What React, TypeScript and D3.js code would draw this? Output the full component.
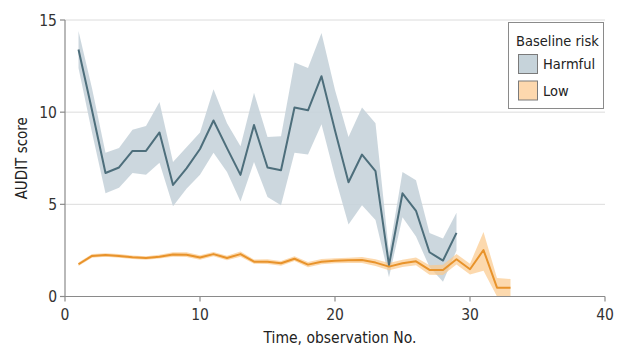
import React from 'react';
import * as d3 from 'd3';

// observation numbers
const harmfulObs = d3.range(1, 30);
const lowObs = d3.range(1, 34);

// Harmful baseline risk: mean AUDIT score and CI band
const harmfulMean = [13.4, 10.1, 6.7, 7.0, 7.9, 7.9, 8.9, 6.05, 6.95, 8.0, 9.55, 8.05, 6.6, 9.3, 7.0, 6.85, 10.25, 10.1, 11.95, 9.0, 6.2, 7.7, 6.8, 1.7, 5.6, 4.65, 2.4, 1.95, 3.45];
const harmfulHi = [14.4, 11.3, 7.8, 8.05, 9.05, 9.25, 10.55, 7.3, 8.1, 8.9, 11.25, 9.4, 8.15, 11.05, 8.65, 8.7, 12.7, 12.4, 14.3, 11.2, 8.65, 10.25, 9.4, 2.4, 6.75, 6.3, 3.45, 3.15, 4.55];
const harmfulLo = [12.4, 8.9, 5.6, 5.9, 6.7, 6.6, 7.25, 4.9, 5.85, 6.6, 7.8, 6.75, 5.15, 7.3, 5.4, 4.95, 7.8, 7.7, 9.35, 6.5, 3.9, 4.95, 4.15, 1.05, 4.3, 3.25, 1.6, 0.8, 2.5];

// Low baseline risk
const lowMean = [1.75, 2.2, 2.25, 2.2, 2.13, 2.09, 2.16, 2.28, 2.27, 2.12, 2.3, 2.09, 2.3, 1.89, 1.89, 1.8, 2.05, 1.73, 1.89, 1.94, 1.96, 1.98, 1.84, 1.62, 1.8, 1.91, 1.44, 1.44, 2.02, 1.48, 2.52, 0.48, 0.48];
const lowHi = [1.85, 2.3, 2.35, 2.3, 2.23, 2.19, 2.26, 2.4, 2.4, 2.24, 2.42, 2.21, 2.44, 2.01, 2.02, 1.93, 2.18, 1.87, 2.03, 2.08, 2.1, 2.14, 2.02, 1.82, 2.0, 2.12, 1.7, 1.72, 2.3, 1.78, 3.5, 1.0, 0.95];
const lowLo = [1.65, 2.1, 2.15, 2.1, 2.03, 1.99, 2.06, 2.16, 2.14, 2.0, 2.18, 1.97, 2.16, 1.77, 1.76, 1.67, 1.92, 1.59, 1.75, 1.8, 1.82, 1.82, 1.66, 1.42, 1.6, 1.7, 1.18, 1.16, 1.74, 1.2, 1.4, 0.0, 0.0];

const xTicks = [0, 10, 20, 30, 40];
const yTicks = [0, 5, 10, 15];
const legendItems = [
  { label: 'Harmful', fill: '#c6d3da' },
  { label: 'Low', fill: '#fdd8ae' },
];

const W = 618;
const H = 348;
const FONT = '"Liberation Sans Narrow", "DejaVu Sans Condensed", "Open Sans", sans-serif';

export default function App() {
  const x = d3.scaleLinear().domain([0, 40]).range([65, 605]);
  const y = d3.scaleLinear().domain([0, 15]).range([296.5, 20]);

  const band = (obs: number[], lo: number[], hi: number[]) =>
    d3.area<number>()
      .x((_, i) => x(obs[i]))
      .y0((_, i) => y(lo[i]))
      .y1((_, i) => y(hi[i]))(obs) || '';
  const line = (obs: number[], vals: number[]) =>
    d3.line<number>()
      .x((_, i) => x(obs[i]))
      .y((d) => y(d))(vals) || '';

  return (
    <svg width={W} height={H} style={{ position: 'absolute', left: 0, top: 0, fontFamily: FONT }}>
      <rect width={W} height={H} fill="#fff" />

      {/* gridlines */}
      {yTicks.filter((t) => t > 0).map((t) => (
        <line key={t} x1={x(0)} x2={x(40)} y1={y(t)} y2={y(t)} stroke="#dcdcdc" strokeWidth={1} />
      ))}

      {/* bands and lines */}
      <path d={band(harmfulObs, harmfulLo, harmfulHi)} fill="#c6d3da" opacity={0.9} />
      <path d={band(lowObs, lowLo, lowHi)} fill="#fbc98c" opacity={0.7} />
      <path d={line(harmfulObs, harmfulMean)} fill="none" stroke="#4d6e7b" strokeWidth={2} strokeLinejoin="round" />
      <path d={line(lowObs, lowMean)} fill="none" stroke="#e8932b" strokeWidth={2} strokeLinejoin="round" />

      {/* y axis */}
      <line x1={x(0)} x2={x(0)} y1={y(15)} y2={y(0)} stroke="#8a8a8a" strokeWidth={1.2} />
      {yTicks.map((t) => (
        <g key={t}>
          <line x1={x(0) - 5} x2={x(0)} y1={y(t)} y2={y(t)} stroke="#8a8a8a" strokeWidth={1.2} />
          <text x={x(0) - 8} y={y(t)} dy="0.36em" textAnchor="end" fontSize={15.5} fill="#333">{t}</text>
        </g>
      ))}

      {/* x axis */}
      <line x1={x(0)} x2={x(40)} y1={y(0)} y2={y(0)} stroke="#8a8a8a" strokeWidth={1.2} />
      {xTicks.map((t) => (
        <g key={t}>
          <line x1={x(t)} x2={x(t)} y1={y(0)} y2={y(0) + 5} stroke="#8a8a8a" strokeWidth={1.2} />
          <text x={x(t)} y={320} textAnchor="middle" fontSize={15.5} fill="#333">{t}</text>
        </g>
      ))}

      <text x={340} y={343} textAnchor="middle" fontSize={15.5} fill="#222">Time, observation No.</text>
      <text transform={`translate(27,${(y(0) + y(15)) / 2}) rotate(-90)`} textAnchor="middle" fontSize={15} fill="#222">AUDIT score</text>

      {/* legend */}
      <g>
        <rect x={508.5} y={22.5} width={95} height={86} fill="#fff" stroke="#8a8a8a" strokeWidth={1} />
        <text x={516} y={46} fontSize={14.5} fill="#222">Baseline risk</text>
        {legendItems.map((d, i) => (
          <g key={d.label} transform={`translate(518,${54 + i * 26.5})`}>
            <rect x={0.5} y={0.5} width={19} height={19} fill={d.fill} stroke="#7a7a7a" strokeWidth={1} />
            <text x={25} y={15} fontSize={14.5} fill="#222">{d.label}</text>
          </g>
        ))}
      </g>
    </svg>
  );
}
